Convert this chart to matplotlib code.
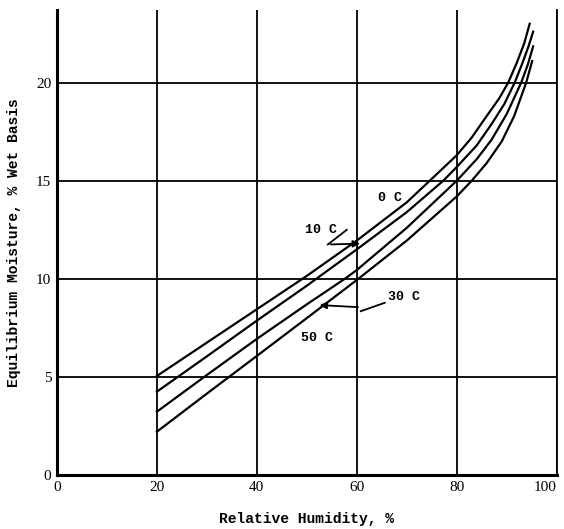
import matplotlib.pyplot as plt

# values
rh_0c = [20, 30, 40, 50, 60, 70, 74.6, 80, 83, 86, 88.5, 90.3, 92, 93.5, 94.6]
emc_0c = [5.05, 6.75, 8.45, 10.15, 11.95, 13.9, 15.0, 16.3, 17.2, 18.3, 19.2, 20.0, 21.0, 22.0, 23.0]

rh_10c = [20, 30, 40, 50, 53.5, 60, 70, 77.3, 80, 84, 87, 89.5, 91.6, 93, 94.3, 95.3]
emc_10c = [4.25, 6.05, 7.87, 9.65, 10.3, 11.5, 13.4, 15.0, 15.7, 16.8, 17.9, 18.9, 20.0, 20.9, 21.8, 22.6]

rh_30c = [20, 30, 40, 50, 57.6, 60, 70, 80, 84, 87, 90, 92.9, 94.2, 95.3]
emc_30c = [3.23, 5.1, 6.94, 8.7, 10.0, 10.45, 12.6, 15.0, 16.1, 17.1, 18.4, 20.0, 20.9, 21.85]

rh_50c = [20, 30, 40, 50, 60.3, 70, 80, 83, 86, 89, 91.5, 93.9, 95.1]
emc_50c = [2.21, 4.15, 6.07, 8.0, 10.0, 11.95, 14.2, 15.0, 15.9, 17.0, 18.3, 20.0, 21.1]

x_ticks = [0, 20, 40, 60, 80, 100]
y_ticks = [0, 5, 10, 15, 20]

mono = 'Liberation Mono'
serif = 'Liberation Serif'

fig = plt.figure(figsize=(5.64, 5.29), dpi=100)
ax = fig.add_axes([0.101, 0.102, 0.886, 0.879])

for xs, ys in [(rh_0c, emc_0c), (rh_10c, emc_10c), (rh_30c, emc_30c), (rh_50c, emc_50c)]:
    ax.plot(xs, ys, color='black', linewidth=1.6, zorder=3, solid_joinstyle='round')

ax.set_xlim(0, 100)
ax.set_ylim(0, 23.7)
ax.set_xticks(x_ticks)
ax.set_yticks(y_ticks)
ax.set_xticklabels([str(v) for v in x_ticks], fontfamily=serif, fontsize=11)
ax.set_yticklabels([str(v) for v in y_ticks], fontfamily=serif, fontsize=11)
ax.get_xticklabels()[-1].set_horizontalalignment('right')
ax.tick_params(length=0, pad=4)
ax.grid(True, color='black', linewidth=1.3)

ax.spines['top'].set_visible(False)
ax.spines['left'].set_linewidth(2.2)
ax.spines['bottom'].set_linewidth(2.2)
ax.spines['right'].set_linewidth(1.3)

# curve labels
lab = dict(fontfamily=mono, fontweight='bold', fontsize=9.5, ha='center', va='center')
ax.text(66.6, 14.1, '0 C', **lab)
ax.text(52.8, 12.5, '10 C', **lab)
ax.text(69.5, 9.1, '30 C', **lab)
ax.text(52.0, 7.0, '50 C', **lab)

# 10 C zig-zag pointer
ax.plot([58.0, 54.2], [12.5, 11.75], color='black', linewidth=1.3)
ax.annotate('', xy=(61.2, 11.8), xytext=(54.2, 11.75),
            arrowprops=dict(arrowstyle='-|>', color='black', lw=1.3))
# 30 C pointer
ax.plot([65.6, 60.8], [8.78, 8.35], color='black', linewidth=1.3)
ax.annotate('', xy=(52.0, 8.67), xytext=(60.8, 8.55),
            arrowprops=dict(arrowstyle='-|>', color='black', lw=1.3))

ax.set_xlabel('Relative Humidity, %', fontfamily=mono, fontweight='bold',
              fontsize=10.5, labelpad=13)
ax.set_ylabel('Equilibrium Moisture, % Wet Basis', fontfamily=mono,
              fontweight='bold', fontsize=10.5, labelpad=11)

fig.savefig('out.png', dpi=100)
